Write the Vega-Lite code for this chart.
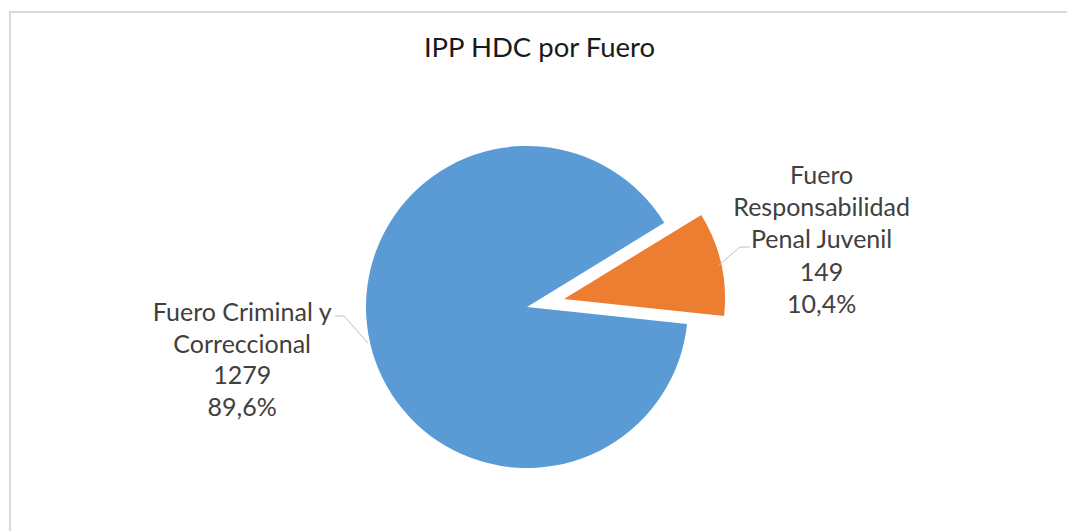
{
  "$schema": "https://vega.github.io/schema/vega-lite/v6.json",
  "width": 1067,
  "height": 531,
  "autosize": {"type": "fit", "contains": "padding"},
  "padding": {"left": 9, "top": 11, "right": -3, "bottom": -3},
  "background": "white",
  "config": {"view": {"stroke": null}},
  "title": {
    "text": "IPP HDC por Fuero",
    "font": "Lato",
    "fontSize": 27.5,
    "fontWeight": "normal",
    "color": "#1a1a1a",
    "anchor": "middle",
    "offset": -51
  },
  "data": {
    "values": [
      {"fuero": "Fuero Criminal y Correccional", "ipp": 1279, "label": "Fuero Criminal y\nCorreccional\n1279\n89,6%"},
      {"fuero": "Fuero Responsabilidad Penal Juvenil", "ipp": 149, "label": "Fuero\nResponsabilidad\nPenal Juvenil\n149\n10,4%"}
    ]
  },
  "encoding": {
    "theta": {"field": "ipp", "type": "quantitative", "stack": true, "scale": {"range": [1.021, 7.304]}},
    "order": {"field": "ipp", "type": "quantitative", "sort": "ascending"}
  },
  "layer": [
    {
      "data": {"values": [{}]},
      "mark": {"type": "rect", "fill": null, "stroke": "#d9d9d9", "strokeWidth": 2},
      "encoding": {
        "theta": null,
        "order": null,
        "x": {"value": 0},
        "x2": {"value": "width"},
        "y": {"value": 0},
        "y2": {"value": "height"}
      }
    },
    {
      "mark": {"type": "arc", "outerRadius": 161, "xOffset": -12.5, "yOffset": 34.5},
      "encoding": {
        "color": {"field": "fuero", "type": "nominal", "legend": null, "scale": {"domain": ["Fuero Criminal y Correccional", "Fuero Responsabilidad Penal Juvenil"], "range": ["#5B9BD5", "#ED7D31"]}},
        "opacity": {"condition": {"test": "datum.ipp > 500", "value": 1}, "value": 0}
      }
    },
    {
      "mark": {"type": "arc", "outerRadius": 161, "xOffset": 24.5, "yOffset": 26.5},
      "encoding": {
        "color": {"field": "fuero", "type": "nominal", "legend": null},
        "opacity": {"condition": {"test": "datum.ipp < 500", "value": 1}, "value": 0}
      }
    },
    {
      "mark": {"type": "point", "xOffset": -12.5, "yOffset": 34.5, "shape": "M-159,36L-183,9L-192,9", "size": 4, "filled": false, "stroke": "#bfbfbf", "strokeWidth": 1},
      "encoding": {
        "opacity": {"condition": {"test": "datum.ipp > 500", "value": 1}, "value": 0}
      }
    },
    {
      "mark": {"type": "point", "xOffset": 24.5, "yOffset": 26.5, "shape": "M155,-34L176,-52L186,-52", "size": 4, "filled": false, "stroke": "#bfbfbf", "strokeWidth": 1},
      "encoding": {
        "opacity": {"condition": {"test": "datum.ipp < 500", "value": 1}, "value": 0}
      }
    },
    {
      "mark": {"type": "text", "radius": 292, "xOffset": -12.5, "yOffset": -24, "font": "Lato", "fontSize": 25, "lineHeight": 31.8, "lineBreak": "\n", "color": "#404040", "align": "center", "baseline": "middle"},
      "encoding": {
        "text": {"field": "label"},
        "opacity": {"condition": {"test": "datum.ipp > 500", "value": 1}, "value": 0}
      }
    },
    {
      "mark": {"type": "text", "radius": 302, "xOffset": -12.5, "yOffset": -30.5, "font": "Lato", "fontSize": 25, "lineHeight": 32.4, "lineBreak": "\n", "color": "#404040", "align": "center", "baseline": "middle"},
      "encoding": {
        "text": {"field": "label"},
        "opacity": {"condition": {"test": "datum.ipp < 500", "value": 1}, "value": 0}
      }
    }
  ]
}
